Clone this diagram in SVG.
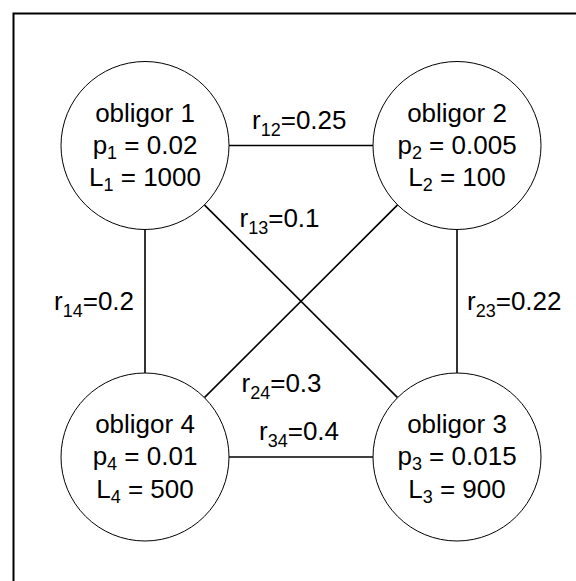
<svg xmlns="http://www.w3.org/2000/svg" width="576" height="581" viewBox="0 0 576 581">
<style>
.frame{fill:none;stroke:#000;stroke-width:2}
.node{fill:#fff;stroke:#000;stroke-width:1}
.edge{stroke:#000;stroke-width:1.6;fill:none}
text{font-family:"Liberation Sans",Arial,sans-serif;font-size:26px;fill:#000}
.nt{text-anchor:middle}
.sub{font-size:18px}
</style>
<rect width="576" height="581" fill="#fff"/>
<path class="frame" d="M13.5,581 V13.5 H576"/>
<g id="connectors">
<line class="edge" x1="229" y1="145.5" x2="373" y2="145.5"/>
<line class="edge" x1="145" y1="229.5" x2="145" y2="373"/>
<line class="edge" x1="457" y1="229.5" x2="457" y2="373"/>
<line class="edge" x1="229" y1="457" x2="373" y2="457"/>
<line class="edge" x1="204.4" y1="204.9" x2="397.6" y2="397.6"/>
<line class="edge" x1="397.6" y1="204.9" x2="204.4" y2="397.6"/>
<text x="252" y="129">r<tspan class="sub" dy="7">12</tspan><tspan dy="-7">=0.25</tspan></text>
<text x="239.5" y="227">r<tspan class="sub" dy="7">13</tspan><tspan dy="-7">=0.1</tspan></text>
<text x="54" y="309.5">r<tspan class="sub" dy="7">14</tspan><tspan dy="-7">=0.2</tspan></text>
<text x="467" y="309.5">r<tspan class="sub" dy="7">23</tspan><tspan dy="-7">=0.22</tspan></text>
<text x="241.5" y="392">r<tspan class="sub" dy="7">24</tspan><tspan dy="-7">=0.3</tspan></text>
<text x="259" y="439.5">r<tspan class="sub" dy="7">34</tspan><tspan dy="-7">=0.4</tspan></text>
</g>
<g id="obligor1">
<circle class="node" cx="145" cy="145.5" r="84"/>
<text class="nt" x="145" y="121.5">obligor 1</text>
<text class="nt" x="145" y="153.5">p<tspan class="sub" dy="5">1</tspan><tspan dy="-5"> = 0.02</tspan></text>
<text class="nt" x="145" y="186">L<tspan class="sub" dy="5">1</tspan><tspan dy="-5"> = 1000</tspan></text>
</g>
<g id="obligor2">
<circle class="node" cx="457" cy="145.5" r="84"/>
<text class="nt" x="457" y="121.5">obligor 2</text>
<text class="nt" x="457" y="153.5">p<tspan class="sub" dy="5">2</tspan><tspan dy="-5"> = 0.005</tspan></text>
<text class="nt" x="457" y="186">L<tspan class="sub" dy="5">2</tspan><tspan dy="-5"> = 100</tspan></text>
</g>
<g id="obligor3">
<circle class="node" cx="457" cy="457" r="84"/>
<text class="nt" x="457" y="433">obligor 3</text>
<text class="nt" x="457" y="465">p<tspan class="sub" dy="5">3</tspan><tspan dy="-5"> = 0.015</tspan></text>
<text class="nt" x="457" y="497.5">L<tspan class="sub" dy="5">3</tspan><tspan dy="-5"> = 900</tspan></text>
</g>
<g id="obligor4">
<circle class="node" cx="145" cy="457" r="84"/>
<text class="nt" x="145" y="433">obligor 4</text>
<text class="nt" x="145" y="465">p<tspan class="sub" dy="5">4</tspan><tspan dy="-5"> = 0.01</tspan></text>
<text class="nt" x="145" y="497.5">L<tspan class="sub" dy="5">4</tspan><tspan dy="-5"> = 500</tspan></text>
</g>
</svg>
